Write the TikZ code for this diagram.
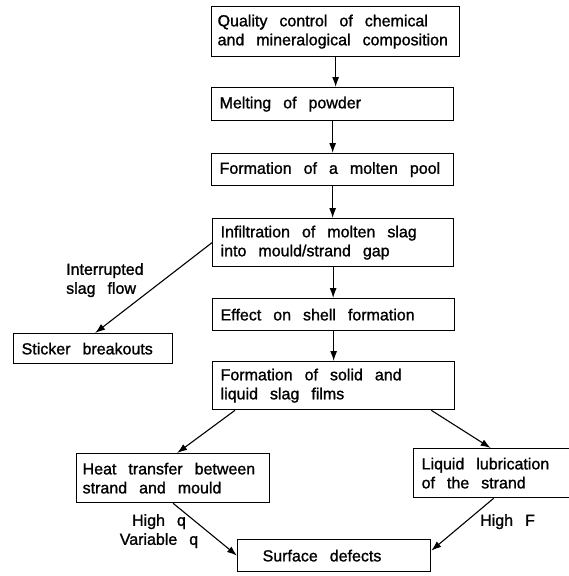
\documentclass[tikz,border=0pt]{standalone}
\usepackage{fontspec}
\setmainfont{Liberation Sans}[FakeBold=1.2]
\usetikzlibrary{arrows.meta}
\newcommand\lettering{\fontsize{16}{19}\selectfont\spaceskip=12pt\relax}
\tikzset{
  box/.style={draw, line width=1.3pt, align=left, inner xsep=8pt, inner ysep=0pt,
    anchor=north west, font=\lettering, execute at begin node={\spaceskip=12pt\relax}},
  lbl/.style={inner sep=0pt, font=\lettering},
  arr/.style={line width=1.1pt, -{Latex[length=10pt,width=7pt]}}
}
\begin{document}
\begin{tikzpicture}[x=1pt,y=-1pt]
\useasboundingbox (0,0) rectangle (569,576);
\clip (0,0) rectangle (569,576);
\fill[white] (0,0) rectangle (569,576);
% main column
\node[box, inner xsep=6pt, text width=236pt, minimum height=50pt] (q) at (211,6)
  {Quality control of chemical\\and mineralogical composition};
\node[box, text width=226pt, minimum height=33pt] (m) at (211,87)
  {Melting of powder};
\node[box, text width=226pt, minimum height=32pt] (f) at (211,153)
  {Formation of a molten pool};
\node[box, text width=225pt, minimum height=48pt] (i) at (212,218)
  {Infiltration of molten slag\\into mould/strand gap};
\node[box, text width=226pt, minimum height=32pt] (e) at (212,298)
  {Effect on shell formation};
\node[box, text width=226pt, minimum height=48pt] (s) at (212,361)
  {Formation of solid and\\liquid slag films};
% side boxes
\node[box, text width=143pt, minimum height=30pt] (st) at (13,333)
  {Sticker breakouts};
\node[box, inner xsep=6pt, text width=181pt, minimum height=49pt] (h) at (76,453)
  {Heat transfer between\\strand and mould};
\node[box, text width=144pt, minimum height=49pt] (l) at (413,448)
  {Liquid lubrication\\of the strand};
\node[box, inner xsep=25pt, text width=143pt, minimum height=32pt] (sd) at (237,539)
  {Surface defects};
% labels
\node[lbl, anchor=north west, align=left] (lint) at (66,263)
  {Interrupted\\slag flow};
\node[lbl, anchor=north, align=center] (lq) at (159,514)
  {High q\\Variable q};
\node[lbl, anchor=north west] (lf) at (480,514) {High F};
% connectors
\draw[arr] (q.south) -- (q.south |- m.north);
\draw[arr] (m.south) -- (m.south |- f.north);
\draw[arr] (f.south) -- (f.south |- i.north);
\draw[arr] (i.south) -- (i.south |- e.north);
\draw[arr] (e.south) -- (e.south |- s.north);
\draw[arr] (i.west) -- ([xshift=2pt]st.north);
\draw[arr] ([xshift=23pt]s.south west) -- ([xshift=4pt]h.north);
\draw[arr] ([xshift=-24pt]s.south east) -- ([xshift=-3pt]l.north);
\draw[arr] (h.south) -- (sd.west);
\draw[arr] (l.south) -- ([yshift=5pt]sd.east);
\end{tikzpicture}
\end{document}
